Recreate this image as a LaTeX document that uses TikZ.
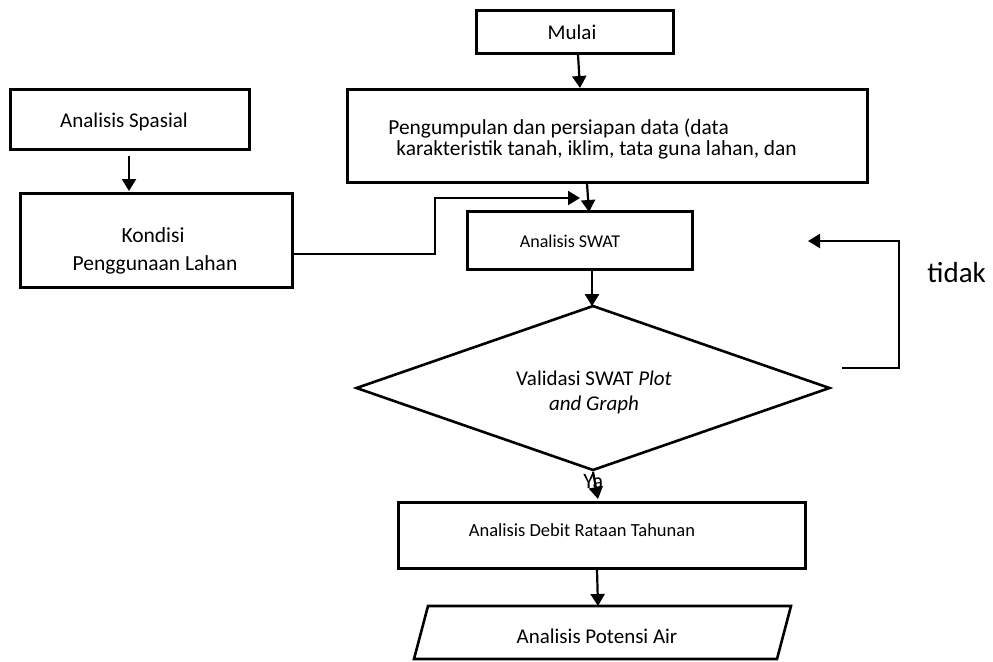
\documentclass[tikz,border=0pt]{standalone}
\usepackage{fontspec}
\setmainfont{Carlito}
\usetikzlibrary{arrows.meta,shapes.geometric,calc}
\begin{document}
\begin{tikzpicture}[x=0.5pt,y=-0.5pt,
  boxst/.style={draw, line width=1.3pt, inner sep=0pt, anchor=north west},
  arr/.style={line width=1.1pt, -{Triangle[length=6pt,width=7pt]}},
  ln/.style={line width=1.1pt},
  txt/.style={inner sep=0pt, anchor=base},
  f105/.style={font=\fontsize{10.5pt}{12.6pt}\selectfont}]
\useasboundingbox (0,0) rectangle (993,661);

% boxes
\node[boxst, minimum width=98.5pt, minimum height=21.5pt] (mulai) at (475,9) {};
\node[boxst, minimum width=260pt, minimum height=46.5pt] (peng) at (346,88) {};
\node[boxst, minimum width=119.5pt, minimum height=30pt] (spas) at (9,88) {};
\node[boxst, minimum width=136pt, minimum height=47pt] (kond) at (19,192) {};
\node[boxst, minimum width=112.5pt, minimum height=29pt] (swat) at (466,210) {};
\node[draw, line width=1.3pt, shape=diamond, inner sep=0pt, minimum width=237pt, minimum height=82.5pt] (val) at (593,388) {};
\node[boxst, minimum width=203.5pt, minimum height=33pt] (debit) at (397,501) {};
\draw[line width=1.3pt] (414,659) -- (428,606) -- (791,606) -- (777,659) -- cycle;
\coordinate (pottop) at (598,606);

% texts
\node[txt, f105] (tmulai) at (572,39) {Mulai};
\node[txt, f105] (tspas) at (124,127) {Analisis Spasial};
\begin{scope}
\clip (346,88) rectangle (866,158);
\node[txt, anchor=base west, font=\fontsize{10.7pt}{12.8pt}\selectfont] (tpeng1) at (388,134) {Pengumpulan dan persiapan data (data};
\node[txt, anchor=base west, font=\fontsize{10.7pt}{12.8pt}\selectfont] (tpeng2) at (396,155) {karakteristik tanah, iklim, tata guna lahan, dan};
\end{scope}
\begin{scope}
\clip (19,192) rectangle (291,278);
\node[txt, font=\fontsize{10.75pt}{12.9pt}\selectfont] (tkond1) at (153,242) {Kondisi};
\node[txt, font=\fontsize{10.75pt}{12.9pt}\selectfont] (tkond2) at (155,270) {Penggunaan Lahan};
\end{scope}
\node[txt, font=\fontsize{9pt}{10.8pt}\selectfont] (tswat) at (570,247) {Analisis SWAT};
\node[txt, f105] (tval1) at (594,385) {Validasi SWAT \textit{Plot}};
\node[txt, f105] (tval2) at (594,410) {\textit{and Graph}};
\node[txt, font=\fontsize{9.25pt}{11pt}\selectfont] (tdebit) at (582,536) {Analisis Debit Rataan Tahunan};
\node[txt, f105] (tpot) at (597,643) {Analisis Potensi Air};
\node[txt, anchor=base west, font=\fontsize{14.5pt}{17pt}\selectfont] (ttidak) at (927,282) {tidak};
\node[txt, anchor=base west, font=\fontsize{11pt}{13pt}\selectfont] (tya) at (583,488) {Ya};

% connectors
\draw[arr] ($(mulai.south west)+(103,0)$) -- ($(peng.north west)+(234,0)$);
\draw[arr] ($(spas.south west)+(120,5)$) -- ($(kond.north west)+(110,-1)$);
\coordinate (swatin) at (580,198);
\draw[arr] ($(kond.north east)+(0,62)$) -- (435,254) -- (435,198) -- (swatin);
\draw[arr] ($(peng.south west)+(241,0)$) -- ($(swat.north west)+(123,2)$);
\draw[arr] ($(swat.south west)+(126,0)$) -- ($(val.north)+(-1,2)$);
\draw[arr] (val.south) -- ($(debit.north west)+(201,-2)$);
\coordinate (loopstart) at (842,368);
\coordinate (loopend) at (808,241);
\draw[arr] (loopstart) -- (899,368) -- (899,241) -- (loopend);
\draw[arr] ($(debit.south west)+(200,0)$) -- (pottop);
\end{tikzpicture}
\end{document}
